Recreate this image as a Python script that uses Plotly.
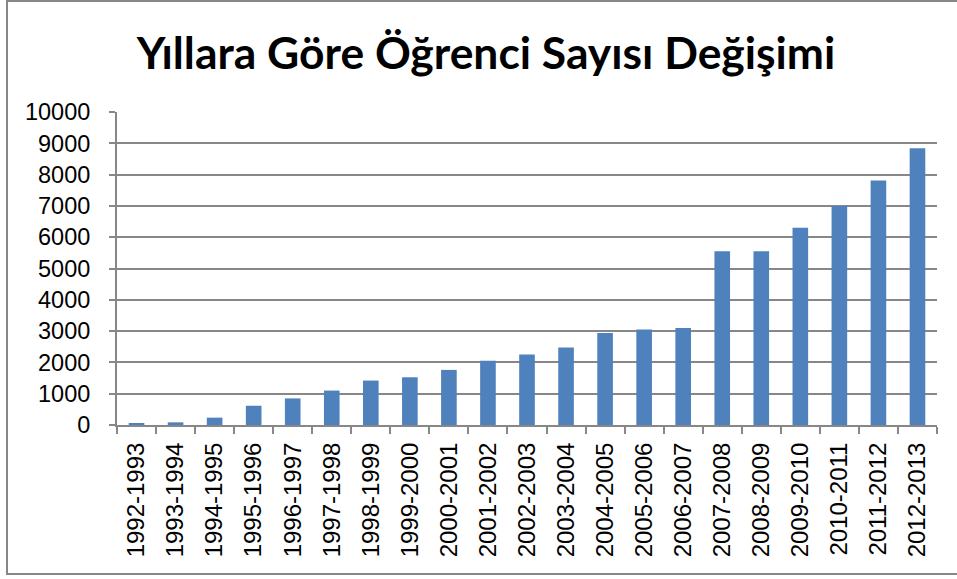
import plotly.graph_objects as go

years = ["1992-1993", "1993-1994", "1994-1995", "1995-1996", "1996-1997", "1997-1998",
         "1998-1999", "1999-2000", "2000-2001", "2001-2002", "2002-2003", "2003-2004",
         "2004-2005", "2005-2006", "2006-2007", "2007-2008", "2008-2009", "2009-2010",
         "2010-2011", "2011-2012", "2012-2013"]
students = [42, 85, 235, 615, 850, 1100, 1420, 1525, 1760, 2050, 2255, 2480,
            2940, 3055, 3100, 5555, 5555, 6305, 7000, 7810, 8840]
y_ticks = [0, 1000, 2000, 3000, 4000, 5000, 6000, 7000, 8000, 9000, 10000]
y_tick_text = [str(v) for v in y_ticks]

title_text = "Yıllara Göre Öğrenci Sayısı Değişimi"

W, H = 957, 579
L, R, T, B = 117, 20, 112, 154
pw, ph = W - L - R, H - T - B

fig = go.Figure()
fig.add_trace(go.Bar(x=years, y=students, marker=dict(color="#4F81BD", line=dict(width=0))))

grid = "#878787"
fig.update_layout(
    width=W, height=H,
    margin=dict(l=L, r=R, t=T, b=B),
    paper_bgcolor="white", plot_bgcolor="white",
    bargap=0.6,
    showlegend=False,
    font=dict(family="Liberation Sans, Arial, sans-serif", color="black"),
    title=dict(text="<b>" + title_text + "</b>", x=486 / W, xref="container", xanchor="center",
               y=1 - 53 / H, yref="container", yanchor="middle",
               font=dict(family="Lato, sans-serif", size=44.4, color="black")),
    xaxis=dict(type="category", tickangle=-90, tickson="boundaries", ticks="outside",
               ticklen=7, tickwidth=2, tickcolor=grid, showline=True, linecolor=grid,
               linewidth=2, showgrid=False, tickfont=dict(size=24), ticklabelstandoff=6),
    yaxis=dict(range=[0, 10000], tickvals=y_ticks, ticktext=y_tick_text, ticks="outside",
               ticklen=6, tickwidth=2, tickcolor=grid, showline=True, linecolor=grid,
               linewidth=2, showgrid=True, gridcolor=grid, gridwidth=2, zeroline=False,
               tickfont=dict(size=23.5), ticklabelstandoff=14),
)

# outer chart border (right edge lies outside the visible picture)
fig.add_shape(type="rect", xref="paper", yref="paper",
              x0=(7 - L) / pw, x1=(965 - L) / pw,
              y0=(H - B - 574) / ph, y1=(H - B - 1) / ph,
              line=dict(color=grid, width=2), fillcolor="rgba(0,0,0,0)", layer="below")

fig.write_html("out.html", config={"displayModeBar": False},
               post_script="document.body.style.margin='0';")
